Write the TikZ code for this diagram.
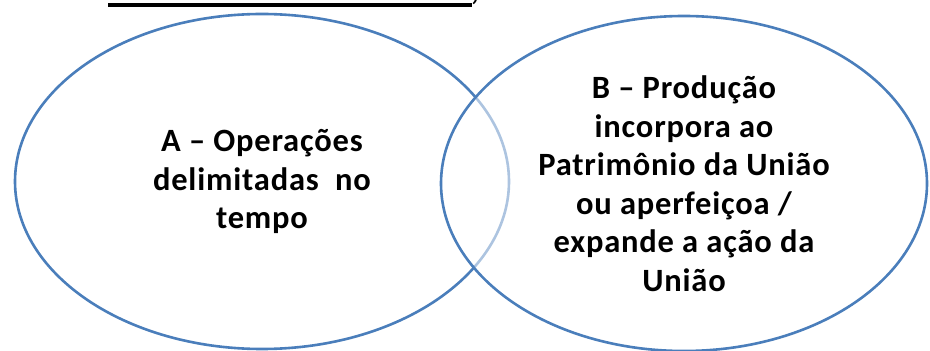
\documentclass[tikz,border=0pt]{standalone}
\usepackage{fontspec}
\setmainfont{Carlito}[LetterSpace=2.5]
\usetikzlibrary{shapes.geometric}
\definecolor{vennblue}{RGB}{74,126,187}

\begin{document}
\begin{tikzpicture}[x=1pt,y=1pt]
  \tikzset{venn/.style={ellipse, draw=vennblue, line width=2.6pt, inner sep=0pt,
      minimum height=335pt, align=center,
      font=\fontsize{32.5}{38.5}\selectfont\bfseries}}
  \useasboundingbox (0,0) rectangle (930,351);

  \coordinate (ruleL) at (108,346);
  \coordinate (ruleR) at (472,346);
  \draw[line width=3.5pt] (ruleL) -- (ruleR);
  \node[anchor=base, inner sep=0pt, font=\fontsize{31.5}{38.5}\selectfont\bfseries] (comma) at (475,350.5) {,};

  \node[venn, minimum width=494pt] (opA) at (262,169.5)
    {A -- Operações\\delimitadas\ \ no\\tempo};
  \node[venn, minimum width=486pt, fill=white, fill opacity=.55, text opacity=1] (prodB) at (684,167.5)
    {B -- Produção\\incorpora ao\\Patrimônio da União\\ou aperfeiçoa /\\expande a ação da\\União};
\end{tikzpicture}
\end{document}
